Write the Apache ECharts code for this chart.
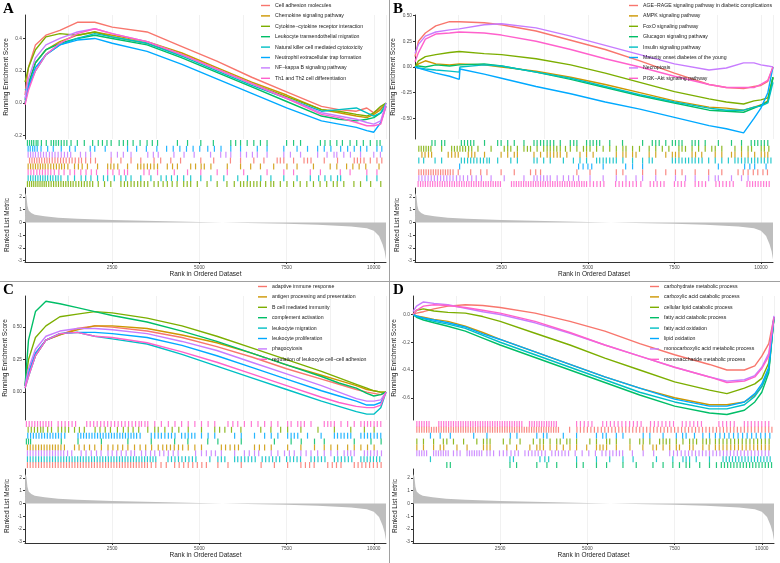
<!DOCTYPE html>
<html>
<head>
<meta charset="utf-8">
<script src="https://cdn.jsdelivr.net/npm/echarts@6/dist/echarts.min.js"></script>
<style>
html, body { margin: 0; background: #fff; }
#main { width: 780px; height: 563px; }
</style>
</head>
<body>
<div id="main"></div>
<script>
// ggplot hue palette, 8 gene sets per panel
const palette = ['#F8766D', '#CD9600', '#7CAE00', '#00BE67', '#00BFC4', '#00A9FF', '#C77CFF', '#FF61CC'];

// ranked list metric, the same list under every panel
const metricRank = [1, 40, 70, 105, 180, 280, 560, 950, 1500, 2500, 3750, 5000, 6000, 7500, 8400, 9350, 9800, 10000, 10150, 10250, 10310, 10350];
const metricValue = [2.3, 2.1, 1.3, 0.93, 0.74, 0.61, 0.48, 0.37, 0.29, 0.19, 0.11, 0.03, -0.03, -0.10, -0.19, -0.32, -0.45, -0.66, -1.06, -1.7, -2.25, -2.9];
const rankTicks = [2500, 5000, 7500, 10000];
const metricTicks = [-3, -2, -1, 0, 1, 2];

// ---------- panel A ----------
const namesA = ['Cell adhesion molecules', 'Chemokine signaling pathway', 'Cytokine\u2212cytokine receptor interaction',
  'Leukocyte transendothelial migration', 'Natural killer cell mediated cytotoxicity',
  'Neutrophil extracellular trap formation', 'NF\u2212kappa B signaling pathway', 'Th1 and Th2 cell differentiation'];
const esRankA = [1, 100, 300, 600, 1000, 1500, 2000, 2500, 3500, 4500, 5500, 6500, 7500, 8500, 9000, 9500, 9800, 10000, 10200, 10350];
const esA = [
  [0.05, 0.22, 0.36, 0.42, 0.45, 0.50, 0.50, 0.47, 0.44, 0.35, 0.26, 0.16, 0.07, -0.02, -0.04, -0.05, -0.03, -0.06, -0.03, -0.01],
  [0.0, 0.12, 0.25, 0.33, 0.38, 0.42, 0.44, 0.42, 0.38, 0.31, 0.22, 0.13, 0.05, -0.04, -0.06, -0.08, -0.09, -0.07, -0.04, 0.0],
  [0.13, 0.22, 0.33, 0.41, 0.43, 0.42, 0.44, 0.41, 0.37, 0.30, 0.21, 0.12, 0.04, -0.04, -0.05, -0.07, -0.08, -0.06, -0.02, 0.0],
  [0.02, 0.12, 0.25, 0.33, 0.37, 0.40, 0.42, 0.40, 0.36, 0.28, 0.19, 0.10, 0.01, -0.08, -0.10, -0.11, -0.10, -0.09, -0.06, -0.02],
  [0.08, 0.10, 0.20, 0.30, 0.36, 0.40, 0.43, 0.41, 0.37, 0.29, 0.20, 0.11, 0.03, -0.05, -0.04, -0.03, -0.06, -0.08, -0.06, 0.0],
  [0.0, 0.10, 0.22, 0.30, 0.36, 0.39, 0.40, 0.37, 0.32, 0.24, 0.15, 0.06, -0.03, -0.11, -0.13, -0.15, -0.17, -0.18, -0.12, -0.02],
  [0.03, 0.15, 0.28, 0.36, 0.40, 0.44, 0.46, 0.43, 0.38, 0.30, 0.21, 0.12, 0.03, -0.06, -0.08, -0.10, -0.12, -0.13, -0.11, 0.0],
  [-0.01, 0.08, 0.20, 0.30, 0.37, 0.43, 0.46, 0.43, 0.38, 0.30, 0.21, 0.12, 0.03, -0.07, -0.09, -0.12, -0.14, -0.14, -0.13, -0.02]
];
// gene hit positions, in hundreds of ranks
const hitsA = [
  [1.3,2,2.7,3.4,4.1,4.8,5.6,6.3,7,7.8,8.6,9.4,10.2,11,11.8,12.7,13.5,14.4,15.4,16.2,17.4,18.8,20.2,24.7,27.5,30.4,33.2,37,38.9,41.8,44.6,50.4,54.1,58.9,61.8,65.6,68.5,72.3,73.2,74.2,77,80,81,82,85.8,89.6,94.4,95.3,96.2,97.2,99,100.9,102.3],
  [0.9,1.6,2.3,3,3.7,4.4,5.1,5.8,6.6,7.4,8.2,9,9.8,10.5,11.3,12.3,14.2,15.3,16.4,17.9,20.8,23.7,24.6,25.5,26.6,29.4,32.3,33.2,34.1,35.1,36,37,38,40.8,42.3,43.7,47.5,48.9,50.5,51.4,53.3,58,61.8,64.7,67.5,71.3,75.1,78,82.7,87.5,89.4,92.2,94,95.8,97.7,101.5],
  [0.7,1.3,1.9,2.5,3.1,3.7,4.3,4.9,5.5,6.1,6.8,7.5,8.2,8.9,9.6,10.3,11,11.7,12.4,13.1,13.8,14.6,15.4,16.2,17,17.8,18.6,19.4,21,22.8,24.6,27.5,28.5,29.4,30.4,31.3,32.3,33.2,34.2,35.2,37,38.2,39.6,40.8,42.2,43.6,45.5,46.5,47.5,49.4,52.2,55.1,57.9,60,61.8,62.7,63.7,64.6,65.6,66.5,67.5,69,70.5,71.3,73.2,75.1,77,78.9,80.8,82.7,84.6,86.5,88.4,89.5,91.4,94.3,96.2,99.1,102],
  [0.7,1.3,1.9,2.5,3.2,3.7,4.7,6.1,7.5,8.2,8.9,9.6,10.4,11.2,12,13.2,15,17,19.4,21,22.2,23.5,24.7,27,28.2,29.4,31,33,35,36.5,38,43.7,46.6,50.4,54,59,60.4,61.8,63.7,65.6,67.5,69.4,75,77,79,84.7,86,87.5,89.4,91,93.2,95.1,97,99,100.9,101.8],
  [0.9,1.6,2.3,3,3.7,4.4,5.1,5.8,6.5,7.3,8,8.8,9.5,10.3,12.3,14.2,16.1,17.4,18.9,20.8,22.5,23.7,25.6,27.5,28.9,30.4,33.2,36.1,39,40.5,42,43.7,45.5,47.5,50.4,53.3,57,61,63.8,67.6,70.5,74.2,78,81.8,84.2,86,87.7,89.6,90.5,98,100.9],
  [0.9,1.5,2.2,2.8,3.5,4.6,6.5,8.1,10.4,12.8,14.4,18.7,20,23,29.4,32,34.8,37.8,40.6,42.5,44.4,46.3,48.2,50.1,52.4,54.3,56.2,59,61.8,66.6,69.4,74.2,78,81,83.9,85.8,87.7,90.5,92.5,94.4,96.2,98,100.9,102.3],
  [0.9,1.6,2.3,3,3.8,4.5,5.3,6.1,7,7.8,8.6,9.5,10.4,11.3,12.2,13.1,15.9,17.4,18.8,24.7,26.5,28.2,30.4,35.2,36.8,38.2,42.7,45.6,48.5,53.2,56.1,57.6,59,61.8,63.5,65.2,66.6,69.4,74.2,76.1,79,83.9,86.6,88.6,89.4,91.4,93.3,96.2,100,101.9],
  [0.9,1.7,2.5,3.4,4.2,5,5.8,6.6,7.4,8.4,9.7,11.2,12.9,14.2,16,17.5,19,20.5,23.7,25.2,27,28.5,29.4,34.1,35.6,38,42.8,46.6,50.4,55.1,58,62.7,69.4,74.2,77,81.8,84.7,90.4,93.2,98,100.9]
];
const rugOrderA = [3, 5, 6, 0, 1, 7, 4, 2];
const yTicksA = [-0.2, 0, 0.2, 0.4];

// ---------- panel B ----------
const namesB = ['AGE\u2212RAGE signaling pathway in diabetic complications', 'AMPK signaling pathway', 'FoxO signaling pathway',
  'Glucagon signaling pathway', 'Insulin signaling pathway', 'Maturity onset diabetes of the young',
  'Necroptosis', 'PI3K\u2212Akt signaling pathway'];
const esRankB = [1, 100, 300, 600, 1000, 1280, 1300, 2000, 2500, 3500, 4500, 5500, 6500, 7500, 8500, 9000, 9500, 9800, 10000, 10200, 10350];
const esB = [
  [0.10, 0.25, 0.33, 0.40, 0.44, 0.44, 0.44, 0.43, 0.41, 0.35, 0.26, 0.17, 0.06, -0.06, -0.17, -0.20, -0.21, -0.19, -0.18, -0.14, 0.0],
  [0.0, 0.03, 0.06, 0.03, 0.02, 0.03, 0.03, 0.02, 0.0, -0.04, -0.10, -0.17, -0.25, -0.33, -0.39, -0.40, -0.42, -0.39, -0.37, -0.33, -0.10],
  [0.0, 0.06, 0.10, 0.12, 0.14, 0.15, 0.15, 0.13, 0.12, 0.08, 0.02, -0.06, -0.15, -0.24, -0.31, -0.34, -0.36, -0.33, -0.32, -0.30, -0.10],
  [0.0, 0.01, 0.0, 0.02, 0.01, 0.02, 0.02, 0.03, 0.01, -0.05, -0.12, -0.20, -0.28, -0.35, -0.42, -0.43, -0.44, -0.40, -0.37, -0.34, -0.10],
  [0.0, -0.01, -0.02, -0.03, -0.04, -0.05, 0.0, 0.02, 0.01, -0.05, -0.11, -0.19, -0.27, -0.34, -0.40, -0.42, -0.42, -0.39, -0.38, -0.35, -0.15],
  [0.0, -0.01, -0.03, -0.06, -0.09, -0.12, -0.02, -0.07, -0.11, -0.19, -0.26, -0.34, -0.41, -0.49, -0.57, -0.60, -0.64, -0.50, -0.40, -0.25, 0.0],
  [0.13, 0.22, 0.30, 0.34, 0.36, 0.37, 0.37, 0.41, 0.42, 0.38, 0.30, 0.21, 0.12, 0.03, -0.03, -0.01, 0.04, 0.04, 0.02, 0.01, 0.0],
  [0.05, 0.14, 0.27, 0.32, 0.33, 0.34, 0.34, 0.33, 0.31, 0.25, 0.17, 0.08, 0.0, -0.09, -0.17, -0.20, -0.20, -0.20, -0.17, -0.13, 0.0]
];
const hitsB = [
  [1.1,1.8,2.5,3.2,3.9,4.6,5.3,6,6.7,7.4,8.1,8.8,9.5,10.2,11,12.5,16.1,19,20.8,24.9,28.7,33.4,34.9,36.3,46.8,50.6,58.2,60.1,65.8,69.6,72.5,75.3,77.2,81,84.9,88.7,93.4,94.9,96.3,97.8,99.1,100.6,101.9],
  [2,2.9,3.9,4.8,9.6,10.6,11.6,12.5,15.4,16.4,17.3,20.1,24.9,26.8,28.7,29.6,34.4,36.3,38.2,39.1,40.1,41.1,42,43.9,47.7,49.6,51.5,58.2,60.1,61,62.9,63.9,67.7,69.6,72.5,74.4,75.3,76.3,80.1,81.1,82.9,86.8,88.7,91.5,92.5,94.4,96.3,98.2,100.1,101.1,102],
  [1.1,1.8,2.5,3.2,3.9,4.6,7.7,10.6,11.4,12.2,13,13.8,14.6,15.5,16.4,18.2,22,25.8,26.8,27.7,29.6,31.5,32.5,33.4,35.3,37.2,38.2,39.1,40.1,41,42,43.5,44.9,46.8,48.7,49.6,50.6,52.5,54.4,56.3,58.2,60.1,61,62.9,64.9,67.7,69.6,71.5,73.4,76.3,77.2,78.2,80.1,82,83.9,85.8,86.8,88.7,92.5,94.4,96.3,97.3,100.1,101,102.3],
  [4.9,5.8,7.7,8.6,13.4,14.3,15.2,16.1,17,20.1,23.9,24.9,26.8,28.7,31.5,34.4,35.3,36.3,37.2,38.2,39.1,40.1,42,44.9,45.9,46.8,49.6,50.6,51.5,52.5,53.4,56.3,60,65.8,68.6,69.6,70.6,72.5,74.4,75.3,76.3,77.2,80.1,81,82,83.9,87.7,91.5,94.4,97.2,98.2,99.1,100.1,101,102],
  [1.1,2.5,5.8,7.7,13.4,14.3,15.2,16.1,17,17.9,18.9,19.8,20.8,21.5,23.9,27.7,29.6,34.4,35.3,37.2,39.1,42.9,45.8,47.7,49.6,52.5,53.4,54.4,55.3,56.3,57.3,58.2,60.1,62.9,65.8,67.7,68.6,74.4,75.3,76.3,77.2,78.2,79.1,80.1,81,82,83,84.9,86.8,88.7,90.6,92.5,93.4,94.4,95.4,96.3,97.3,98.2,99.1,100.1,101,102,102.9],
  [12.9,47.3,48.6,50,51.1,54.4,60.9,62.9,65.8,87.7,95.3,96.8,98.2,101.5],
  [1.1,2,2.9,3.8,4.7,5.6,6.5,7.4,8.3,9.2,10.1,11,12,13,14,15.2,16.4,17.7,19.2,22,25.8,31.5,34.4,35.3,36.3,37.2,38.2,39.1,41.1,42.9,44.4,45.8,47.3,50.6,54.4,58.2,61,63.9,65.8,69.6,75.3,78.2,81,84.9,86.8,87.7,91.5,94.4,96.3],
  [0.9,1.6,2.3,3,3.7,4.4,5.1,5.8,6.5,7.2,7.9,8.6,9.3,10,10.7,11.4,12.1,12.8,13.5,14.2,14.9,15.6,16.3,17,17.7,18.4,19.1,19.8,20.5,21.2,21.9,22.6,23.3,24,24.7,27.9,28.6,29.3,30,30.7,31.4,32.1,32.8,33.5,34.2,34.9,35.6,36.3,37,37.7,38.4,39.1,39.8,40.5,41.2,41.9,42.6,43.3,44,44.7,45.4,46.1,46.8,47.5,48.2,48.9,49.6,50.6,51.6,52.6,53.6,54.6,58,59,60,61,62,63,64,65.3,68,69,70,71,72,75,76,77,78,81,82,83,84,87,88,89,90,91,92,96,96.8,97.6,98.4,99.2,100,100.8,101.6,102.4]
];
const rugOrderB = [3, 2, 1, 4, 5, 0, 6, 7];
const yTicksB = [-0.5, -0.25, 0, 0.25, 0.5];

// ---------- panel C ----------
const namesC = ['adaptive immune response', 'antigen processing and presentation', 'B cell mediated immunity',
  'complement activation', 'leukocyte migration', 'leukocyte proliferation', 'phagocytosis',
  'regulation of leukocyte cell\u2212cell adhesion'];
const esRankC = [1, 100, 300, 600, 1000, 1500, 2000, 2500, 3500, 4500, 5500, 6500, 7500, 8500, 9000, 9500, 9800, 10000, 10200, 10350];
const esC = [
  [0.05, 0.15, 0.30, 0.40, 0.44, 0.49, 0.51, 0.50, 0.47, 0.42, 0.35, 0.27, 0.18, 0.10, 0.06, 0.02, 0.0, -0.01, -0.02, 0.0],
  [0.05, 0.14, 0.28, 0.40, 0.44, 0.48, 0.51, 0.51, 0.49, 0.44, 0.38, 0.30, 0.21, 0.13, 0.09, 0.05, 0.02, 0.01, 0.0, 0.0],
  [0.05, 0.25, 0.42, 0.51, 0.58, 0.60, 0.62, 0.61, 0.57, 0.51, 0.43, 0.34, 0.25, 0.16, 0.11, 0.06, 0.03, 0.01, 0.0, 0.0],
  [0.05, 0.40, 0.62, 0.70, 0.68, 0.65, 0.62, 0.59, 0.54, 0.47, 0.39, 0.30, 0.21, 0.12, 0.07, 0.03, -0.01, -0.03, -0.02, 0.0],
  [0.03, 0.12, 0.28, 0.40, 0.45, 0.46, 0.43, 0.41, 0.37, 0.29, 0.20, 0.11, 0.02, -0.07, -0.11, -0.15, -0.17, -0.17, -0.12, 0.0],
  [0.05, 0.15, 0.30, 0.40, 0.45, 0.46, 0.46, 0.45, 0.42, 0.36, 0.28, 0.19, 0.10, 0.01, -0.03, -0.07, -0.10, -0.10, -0.08, 0.0],
  [0.05, 0.18, 0.33, 0.43, 0.47, 0.49, 0.49, 0.48, 0.45, 0.39, 0.32, 0.23, 0.14, 0.05, 0.0, -0.05, -0.07, -0.07, -0.06, 0.0],
  [0.03, 0.12, 0.28, 0.40, 0.45, 0.46, 0.43, 0.42, 0.38, 0.31, 0.23, 0.14, 0.05, -0.04, -0.08, -0.11, -0.12, -0.12, -0.10, 0.0]
];
const hitsC = [
  [0.7,1.5,2.3,3.1,3.9,4.7,5.5,6.3,7.1,7.9,8.7,9.5,10.3,11.1,11.9,12.7,13.5,14.3,15.1,15.9,16.7,17.5,18.3,19.1,19.9,20.7,21.5,22.3,23.1,23.9,24.7,25.5,26.3,27.1,27.9,28.7,29.5,30.3,31.1,31.9,32.7,33.5,34.3,35.1,36.2,37.5,39,40.5,42.9,44.2,45.5,46.8,48.1,49.4,50.7,52,55.3,58.2,62,67.7,71.5,75.3,79.1,80.4,81.6,82.9,86.8,88.1,89.3,90.6,94.4,95.5,96.6,97.7,98.8,99.9,101,102.1],
  [0.7,1.5,2.3,3.1,3.9,4.7,5.5,6.3,7.1,7.9,8.7,9.5,10.3,11.3,14.2,15.5,17,18.5,20,21.9,23.8,25.2,26.6,28,29.5,31.4,33,34.6,36.3,38.2,39.5,40.6,41.7,42.8,44,45.2,46.8,48.7,50.6,56.3,57.5,58.8,60.1,61.2,65.8,67.2,68.7,70.6,75.3,79.1,83,85.8,87.7,89.6,92.5,94.4,96.3,98.2,100.1],
  [0.9,1.8,2.7,3.6,4.5,5.2,6.5,7.6,9.5,10.5,11.5,12.5,14.2,15.6,17,20.1,21.5,23,24.5,26.5,28.2,29.6,31,32.6,35.2,37.2,38.2,40.1,42.2,44.1,46.8,50.6,54.4,55.8,57.3,59.2,61.9,67.6,70.5,73.3,75.3,79.1,84,88.7,93.4,97.3,100.1],
  [0.4,1,1.6,10.4,15.2,21.9,29.5,36.2,42.9,46.7,52.4,55.3,62,71.5,76.3,79.2,83,85.8,94.4,99.2,102.1],
  [0.7,1.5,2.3,3.1,3.9,4.7,5.5,6.3,7.1,7.9,8.7,9.5,10.3,11.1,11.9,12.7,13.5,14.3,15.1,15.9,16.7,17.5,18.3,19.1,19.9,20.7,21.5,22.3,23.1,23.9,24.7,25.5,26.3,27.1,27.9,28.7,29.5,30.3,31.1,31.9,32.7,33.5,34.3,35.1,35.9,36.7,37.5,41,42,43,44,45,46,47,48,49,53,55.3,56.3,57.3,60.1,61,62,63,64,65,66,68,69,70,71,72,73,75,76,77,78,79,82,83,84,85,86,88.7,89.7,90.7,91.7,92.7,93.7,96.3,97.2,98.1,99,99.9,100.8,101.7],
  [0.8,1.6,2.4,3.2,4,4.8,5.6,6.4,7.2,8,8.8,9.6,10.4,11.4,15.2,16,16.8,17.6,18.4,19.2,20,20.8,21.6,22.4,23.2,24,24.8,25.6,26.4,27.2,28,28.8,29.6,30.4,31.2,32,33,36.2,37.2,38.2,39.1,40.1,41.1,42,43,44.9,45.9,46.8,47.8,48.7,50.6,52.5,54.4,60.1,62,65.8,68.7,70.6,72.5,75.3,76.3,77.2,78.2,81,84.9,88.7,89.6,90.6,91.5,92.5,93.4,96.3,97.3,98.2,99.1,100.1,101,102],
  [0.7,1.5,2.3,3.1,3.9,4.7,5.5,6.3,7.1,7.9,8.7,9.5,10.3,11.1,12.2,13.4,16.1,17.5,19,20.5,21.8,23.8,25,26.3,27.6,29,30.4,31.4,33.4,34.6,36,37.2,38.6,39.8,41.1,42.5,43.9,48.9,50.6,52,53.4,54.6,56.3,60.1,62.9,64.3,65.8,67,70.6,72.5,74.4,75.8,77.2,79.1,80.6,82,83.9,85.8,87.7,89.6,91.5,92.5,93.4,94.4,97.3,98.2,99.1,100.1,101,102.2],
  [0.4,1.2,2,2.8,3.6,4.4,5.2,6,6.8,7.6,9.5,10.5,11.5,12.5,13.5,14.5,17.7,18.7,19.7,20.7,21.7,22.7,23.7,24.7,25.7,26.7,27.7,28.7,29.7,30.7,31.7,32.7,33.4,34.4,35.2,37.2,39.1,41.1,43,44.9,46.8,48.7,50.6,52.5,54.4,58.2,59.6,61,62.9,64.9,66.8,68.7,70.6,72.5,75.3,76.3,78.2,79.1,80.1,82,85.8,86.8,87.7,88.7,90.6,92.5,94.4,96.3,97.3,98.2,99.1,100.1,101,102]
];
const rugOrderC = [7, 2, 5, 3, 1, 6, 4, 0];
const yTicksC = [0, 0.25, 0.5];

// ---------- panel D ----------
const namesD = ['carbohydrate metabolic process', 'carboxylic acid catabolic process', 'cellular lipid catabolic process',
  'fatty acid catabolic process', 'fatty acid oxidation', 'lipid oxidation',
  'monocarboxylic acid metabolic process', 'monosaccharide metabolic process'];
const esRankD = [1, 100, 300, 600, 1000, 1500, 2000, 2500, 3500, 4500, 5500, 6500, 7500, 8500, 9000, 9500, 9800, 10000, 10200, 10350];
const esD = [
  [0.0, 0.01, 0.02, 0.04, 0.06, 0.07, 0.065, 0.05, 0.01, -0.05, -0.12, -0.21, -0.29, -0.36, -0.40, -0.40, -0.37, -0.30, -0.21, -0.02],
  [0.0, -0.01, -0.02, -0.035, -0.05, -0.085, -0.13, -0.18, -0.27, -0.36, -0.45, -0.53, -0.60, -0.65, -0.65, -0.63, -0.58, -0.52, -0.40, -0.02],
  [0.0, 0.03, 0.04, 0.025, 0.015, 0.01, -0.015, -0.05, -0.135, -0.22, -0.315, -0.40, -0.485, -0.545, -0.57, -0.53, -0.50, -0.46, -0.35, -0.02],
  [0.0, -0.02, -0.04, -0.06, -0.085, -0.12, -0.17, -0.22, -0.31, -0.40, -0.49, -0.58, -0.66, -0.71, -0.72, -0.69, -0.63, -0.56, -0.42, -0.02],
  [0.0, -0.015, -0.03, -0.05, -0.07, -0.10, -0.15, -0.20, -0.29, -0.38, -0.47, -0.56, -0.63, -0.68, -0.68, -0.65, -0.59, -0.52, -0.40, -0.02],
  [0.0, -0.01, -0.025, -0.04, -0.06, -0.09, -0.14, -0.18, -0.27, -0.36, -0.45, -0.53, -0.61, -0.66, -0.66, -0.63, -0.57, -0.50, -0.38, -0.02],
  [0.02, 0.06, 0.09, 0.08, 0.07, 0.045, 0.02, 0.0, -0.06, -0.135, -0.22, -0.30, -0.38, -0.45, -0.48, -0.47, -0.44, -0.38, -0.28, -0.01],
  [0.0, 0.03, 0.06, 0.07, 0.065, 0.05, 0.03, 0.01, -0.05, -0.13, -0.22, -0.30, -0.38, -0.45, -0.49, -0.48, -0.45, -0.39, -0.30, -0.02]
];
const hitsD = [
  [1.1,1.8,2.5,3.2,3.9,4.6,5.3,6,6.7,7.4,8.1,8.8,9.5,10.2,10.9,11.6,12.3,13,13.7,14.4,15.1,15.8,16.5,17.2,17.9,18.6,19.3,20,20.7,21.4,22.1,22.8,23.5,24.2,24.9,25.6,26.3,27,27.7,28.4,29.1,29.8,30.5,31.2,31.9,32.6,33.3,34,34.7,35.4,36.1,36.8,37.5,38.2,38.9,39.6,40.3,41,41.7,44.9,47,48,49,50,51,52,53,54,55,56,57,58,59,60,61,62,63,64,65,66,67,68,69,70,71,72,73,74,75,76,77,78,79,80,81,82,83,84,85,86,87,88,89,90,91,92,93,94,95,96,97,98,99,100,101,102,102.9],
  [1.1,3,5.9,7.8,8.8,12.6,15.5,20.2,21.2,22.1,26.9,29.7,33.5,35.5,36.4,37.4,39.3,41.2,43.1,45,46.9,49.8,52.6,53.6,54.5,55.5,58.3,62.2,65.9,68.8,69.8,71.7,73.6,75.5,76.4,79.3,80.3,83.1,84.9,86.7,87.8,88.9,90,91.1,92.2,93.3,94.4,95.5,96.6,97.7,98.8,99.9,101,102.1],
  [1.1,3,5.9,8.7,9.7,11.6,14.5,18.3,20.2,21.2,22.1,25.9,27.8,30.7,34.5,36.4,37.4,39.3,41.2,42.2,44.1,45,46.9,50.7,52.6,55.5,56.4,58.3,62.2,65,66,67.9,70.7,71.7,72.6,73.6,75.5,77.4,79.3,80.3,81.3,83.1,84.1,85.1,86.7,87.8,88.9,90,91.1,92.2,93.3,94.4,95.5,96.6,97.7,98.8,99.9,101,102.1],
  [9.7,10.7,27.8,29.7,35.5,38.4,41.2,46.9,48.8,52.6,55.5,60.2,64,68.8,71.7,74.5,76.4,78.3,79.3,82.2,85,87,88.4,89.3,90.2,91.1,92,92.9,93.8,94.7,95.6,96.5,97.4,98.3,99.2,100.1,101,101.9,102.8],
  [5,27.8,28.8,36.4,37.8,38.9,46.9,52.6,56.4,60.2,63.1,69.8,74.5,77.4,78.3,79.3,81.2,85,88.9,89.8,90.7,91.6,92.5,93.4,94.3,95.2,96.1,97,97.9,98.8,99.7,100.6,101.5,102.4],
  [5,7.8,10.7,17.4,21.2,27.9,29.8,35.5,37.4,38.4,43.1,46.9,52.6,54.4,55.4,58.3,60.2,66,67.9,71.7,75.5,77.3,78.3,80.7,83.1,85,86.7,88,89.3,90.6,91.9,93.2,94.5,95.8,97.1,98.4,99.7,101,102.3],
  [1.1,1.8,2.5,3.2,3.9,5.9,6.6,7.3,8,8.7,9.4,10.1,11.6,12.6,13.5,15.5,16.2,16.9,17.6,18.3,19,19.7,21.2,22.1,23.1,24.8,25.9,26.9,28.1,29.2,30.2,32.1,33.1,34.1,35,35.9,36.9,37.9,39.8,40.8,41.7,42.7,43.6,44.6,46.5,48.5,50.4,52.3,54.2,55.3,56.4,57.3,58.3,59.2,60.1,62.9,66,69,73.6,74.7,75.8,76.9,78,79,80,81,82,83,84,85,86,87,88,89,90,91,92,93,94,95,96,97,98,99,100,101,102],
  [1.1,1.8,2.5,3.2,3.9,4.6,7.4,8.1,8.8,9.5,10.2,10.9,11.6,12.3,13,13.7,14.4,15.1,15.8,16.5,17.2,17.9,18.6,19.3,20,20.7,21.4,22.1,22.8,23.5,24.2,24.9,25.6,26.3,27,27.7,28.4,29.1,29.8,30.5,31.2,33.4,34.1,34.8,35.5,36.2,36.9,37.6,38.3,39,39.7,40.4,41.1,46.9,48,49.1,50.2,51.3,54.4,55.5,56.6,57.7,58.8,59.9,61,62.1,63.2,64.3,65.4,68.1,69.2,70.3,71.4,72.5,73.6,74.7,77.2,78.3,79.4,80.5,81.6,82.7,87.7,88.8,89.9,91,92.1,95,96,97,98,99,100,101,102]
];
const rugOrderD = [7, 0, 5, 2, 1, 6, 4, 3];
const yTicksD = [-0.6, -0.4, -0.2, 0];

// layout of the four panels
const panels = [
  { tag: 'A', names: namesA, esRank: esRankA, es: esA, hits: hitsA, order: rugOrderA, ticks: yTicksA, digits: 1, ymin: -0.222, ymax: 0.545, x: 25, w: 361, y: 0, legX: 261, tagX: 3 },
  { tag: 'B', names: namesB, esRank: esRankB, es: esB, hits: hitsB, order: rugOrderB, ticks: yTicksB, digits: 2, ymin: -0.70, ymax: 0.505, x: 415, w: 358, y: 0, legX: 629, tagX: 393 },
  { tag: 'C', names: namesC, esRank: esRankC, es: esC, hits: hitsC, order: rugOrderC, ticks: yTicksC, digits: 2, ymin: -0.215, ymax: 0.74, x: 25, w: 361, y: 281, legX: 258, tagX: 3 },
  { tag: 'D', names: namesD, esRank: esRankD, es: esD, hits: hitsD, order: rugOrderD, ticks: yTicksD, digits: 1, ymin: -0.76, ymax: 0.133, x: 413, w: 361, y: 281, legX: 650, tagX: 393 }
];

const RANK_MAX = 10350;
const axisColor = '#333333';
const tickText = { fontSize: 4.8, color: '#4d4d4d', margin: 3 };
const titleText = { fontSize: 6.5, color: '#1a1a1a' };
const gridLine = { show: true, lineStyle: { color: '#ebebeb', width: 0.7 } };

const grid = [], xAxis = [], yAxis = [], series = [], legend = [], graphic = [];

panels.forEach(function (p, pi) {
  const g = pi * 3;
  // running score / rug / ranked metric
  grid.push({ left: p.x, top: p.y + 15, width: p.w, height: 124 });
  grid.push({ left: p.x, top: p.y + 140, width: p.w, height: 47 });
  grid.push({ left: p.x, top: p.y + 188, width: p.w, height: 74 });

  xAxis.push({ gridIndex: g, type: 'value', min: 0, max: RANK_MAX, interval: 1250,
    axisLine: { show: false }, axisTick: { show: false }, axisLabel: { show: false }, splitLine: gridLine });
  xAxis.push({ gridIndex: g + 1, type: 'value', min: 0, max: RANK_MAX, show: false });
  xAxis.push({ gridIndex: g + 2, type: 'value', min: 0, max: RANK_MAX, interval: 1250,
    axisLine: { onZero: false, lineStyle: { color: axisColor, width: 1 } },
    axisTick: { customValues: rankTicks, length: 2, lineStyle: { color: axisColor } },
    axisLabel: Object.assign({ customValues: rankTicks, formatter: function (v) { return String(v); } }, tickText),
    splitLine: gridLine,
    name: 'Rank in Ordered Dataset', nameLocation: 'middle', nameGap: 9, nameTextStyle: titleText });

  yAxis.push({ gridIndex: g, type: 'value', min: p.ymin, max: p.ymax,
    axisLine: { show: true, onZero: false, lineStyle: { color: axisColor, width: 1 } },
    axisTick: { show: true, customValues: p.ticks, length: 2, lineStyle: { color: axisColor } },
    axisLabel: Object.assign({ customValues: p.ticks, formatter: function (v) { return Number(v).toFixed(p.digits); } }, tickText),
    splitLine: { show: false },
    name: 'Running Enrichment Score', nameLocation: 'middle', nameGap: 14, nameTextStyle: titleText });
  yAxis.push({ gridIndex: g + 1, type: 'value', min: 0, max: 8, show: false });
  yAxis.push({ gridIndex: g + 2, type: 'value', min: -3.1, max: 2.7,
    axisLine: { show: true, onZero: false, lineStyle: { color: axisColor, width: 1 } },
    axisTick: { show: true, customValues: metricTicks, length: 2, lineStyle: { color: axisColor } },
    axisLabel: Object.assign({ customValues: metricTicks, formatter: function (v) { return String(v); } }, tickText),
    splitLine: { show: false },
    name: 'Ranked List Metric', nameLocation: 'middle', nameGap: 14, nameTextStyle: titleText });

  p.names.forEach(function (name, i) {
    series.push({
      type: 'line', name: name, xAxisIndex: g, yAxisIndex: g,
      data: p.esRank.map(function (r, j) { return [r, p.es[i][j]]; }),
      showSymbol: false, symbol: 'none', z: 3,
      itemStyle: { color: palette[i] },
      lineStyle: { color: palette[i], width: 1.4 }
    });
  });

  p.order.forEach(function (i, row) {
    series.push({
      type: 'scatter', name: p.names[i], xAxisIndex: g + 1, yAxisIndex: g + 1,
      symbol: 'rect', symbolSize: [1.2, 5.9], silent: true,
      data: p.hits[i].map(function (h) { return [h * 100, 7.5 - row]; }),
      itemStyle: { color: palette[i], opacity: 0.85 }
    });
  });

  series.push({
    type: 'line', name: 'metric' + p.tag, xAxisIndex: g + 2, yAxisIndex: g + 2,
    data: metricRank.map(function (r, j) { return [r, metricValue[j]]; }),
    showSymbol: false, symbol: 'none', silent: true,
    lineStyle: { width: 0 },
    areaStyle: { color: '#bebebe', opacity: 1, origin: 0 }
  });

  legend.push({
    orient: 'vertical', left: p.legX, top: p.y + 2, padding: 0,
    data: p.names, icon: 'rect', itemWidth: 9, itemHeight: 1.4, itemGap: 3.4,
    selectedMode: false,
    textStyle: { fontSize: 5.2, color: '#1a1a1a', lineHeight: 7 }
  });

  graphic.push({
    type: 'text', left: p.tagX, top: p.y + 1.5,
    style: { text: p.tag, font: 'bold 15px "Liberation Serif"', fill: '#000' }
  });
});

graphic.push({ type: 'line', shape: { x1: 389.5, y1: 0, x2: 389.5, y2: 563 }, style: { stroke: '#a0a0a0', lineWidth: 1 }, silent: true });
graphic.push({ type: 'line', shape: { x1: 0, y1: 281.5, x2: 780, y2: 281.5 }, style: { stroke: '#a0a0a0', lineWidth: 1 }, silent: true });

const chart = echarts.init(document.getElementById('main'), null, { renderer: 'canvas' });
chart.setOption({
  animation: false,
  backgroundColor: '#ffffff',
  textStyle: { fontFamily: '"Liberation Sans", Arial, sans-serif' },
  grid: grid,
  xAxis: xAxis,
  yAxis: yAxis,
  legend: legend,
  graphic: graphic,
  series: series
});
</script>
</body>
</html>
